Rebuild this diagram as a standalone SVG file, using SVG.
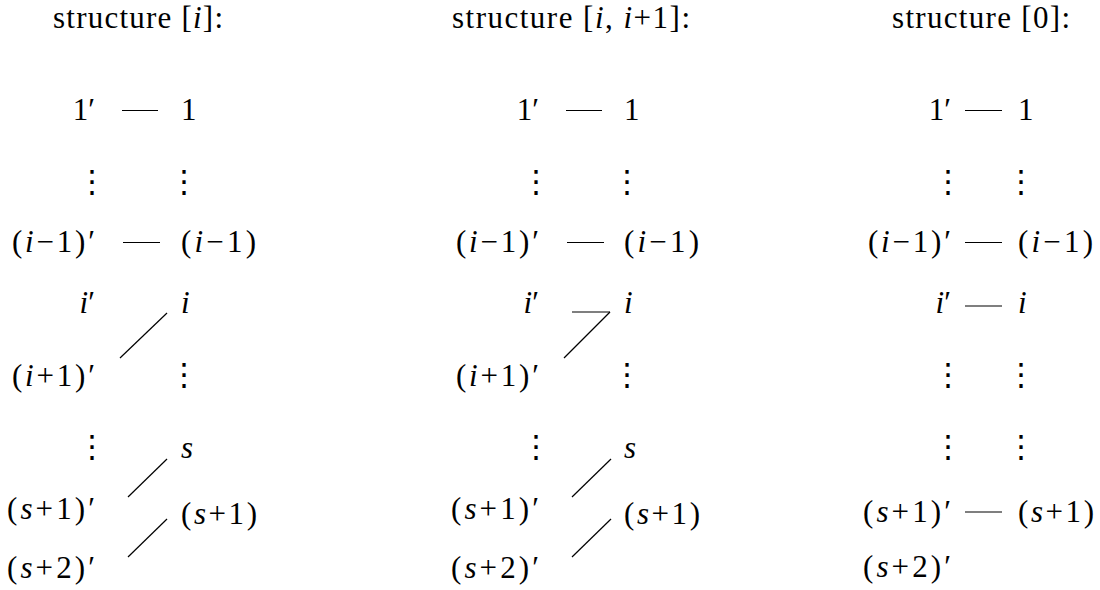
<svg xmlns="http://www.w3.org/2000/svg" width="1100" height="590" viewBox="0 0 1100 590">
<rect width="1100" height="590" fill="#fff"/>

<g id="titles" font-family="Liberation Serif, serif" font-size="31" fill="#000">
<text id="title-1" x="53" y="28" textLength="170" lengthAdjust="spacing">structure [<tspan font-style="italic">i</tspan>]:</text>
<text id="title-2" x="452" y="28" textLength="238" lengthAdjust="spacing">structure [<tspan font-style="italic">i</tspan>, <tspan font-style="italic">i</tspan>+1]:</text>
<text id="title-3" x="892" y="28" textLength="178" lengthAdjust="spacing">structure [0]:</text>
</g>

<!-- Panel 1 -->
<g id="p1" font-family="Liberation Serif, serif" font-size="31" fill="#000">
<g id="p1-L1"><text text-anchor="end" x="95" y="120">1′</text></g>
<g id="p1-Ld1"><text text-anchor="middle" x="92" y="192" font-family="DejaVu Sans, sans-serif">⋮</text></g>
<g id="p1-Lim1"><text text-anchor="end" x="95" y="252" textLength="83" lengthAdjust="spacing">(<tspan font-style="italic">i</tspan>−1)′</text></g>
<g id="p1-Li"><text text-anchor="end" x="95" y="313"><tspan font-style="italic">i</tspan>′</text></g>
<g id="p1-Lip1"><text text-anchor="end" x="95" y="386" textLength="83" lengthAdjust="spacing">(<tspan font-style="italic">i</tspan>+1)′</text></g>
<g id="p1-Ld2"><text text-anchor="middle" x="92" y="457" font-family="DejaVu Sans, sans-serif">⋮</text></g>
<g id="p1-Lsp1"><text text-anchor="end" x="95" y="519" textLength="88" lengthAdjust="spacing">(<tspan font-style="italic">s</tspan>+1)′</text></g>
<g id="p1-Lsp2"><text text-anchor="end" x="95" y="578" textLength="88" lengthAdjust="spacing">(<tspan font-style="italic">s</tspan>+2)′</text></g>
<g id="p1-R1"><text x="181" y="120">1</text></g>
<g id="p1-Rd1"><text text-anchor="middle" x="184" y="192" font-family="DejaVu Sans, sans-serif">⋮</text></g>
<g id="p1-Rim1"><text x="181" y="252" textLength="75" lengthAdjust="spacing">(<tspan font-style="italic">i</tspan>−1)</text></g>
<g id="p1-Ri"><text x="181" y="313" font-style="italic">i</text></g>
<g id="p1-Rd2"><text text-anchor="middle" x="184" y="385" font-family="DejaVu Sans, sans-serif">⋮</text></g>
<g id="p1-Rs"><text x="181" y="458" font-style="italic">s</text></g>
<g id="p1-Rsp1"><text x="181" y="524" textLength="76" lengthAdjust="spacing">(<tspan font-style="italic">s</tspan>+1)</text></g>
</g>

<!-- Panel 2 -->
<g id="p2" font-family="Liberation Serif, serif" font-size="31" fill="#000">
<g id="p2-L1"><text text-anchor="end" x="539" y="120">1′</text></g>
<g id="p2-Ld1"><text text-anchor="middle" x="536" y="192" font-family="DejaVu Sans, sans-serif">⋮</text></g>
<g id="p2-Lim1"><text text-anchor="end" x="539" y="252" textLength="83" lengthAdjust="spacing">(<tspan font-style="italic">i</tspan>−1)′</text></g>
<g id="p2-Li"><text text-anchor="end" x="539" y="313"><tspan font-style="italic">i</tspan>′</text></g>
<g id="p2-Lip1"><text text-anchor="end" x="539" y="386" textLength="83" lengthAdjust="spacing">(<tspan font-style="italic">i</tspan>+1)′</text></g>
<g id="p2-Ld2"><text text-anchor="middle" x="536" y="457" font-family="DejaVu Sans, sans-serif">⋮</text></g>
<g id="p2-Lsp1"><text text-anchor="end" x="539" y="519" textLength="88" lengthAdjust="spacing">(<tspan font-style="italic">s</tspan>+1)′</text></g>
<g id="p2-Lsp2"><text text-anchor="end" x="539" y="578" textLength="88" lengthAdjust="spacing">(<tspan font-style="italic">s</tspan>+2)′</text></g>
<g id="p2-R1"><text x="624" y="120">1</text></g>
<g id="p2-Rd1"><text text-anchor="middle" x="627" y="192" font-family="DejaVu Sans, sans-serif">⋮</text></g>
<g id="p2-Rim1"><text x="624" y="252" textLength="75" lengthAdjust="spacing">(<tspan font-style="italic">i</tspan>−1)</text></g>
<g id="p2-Ri"><text x="624" y="313" font-style="italic">i</text></g>
<g id="p2-Rd2"><text text-anchor="middle" x="627" y="385" font-family="DejaVu Sans, sans-serif">⋮</text></g>
<g id="p2-Rs"><text x="624" y="458" font-style="italic">s</text></g>
<g id="p2-Rsp1"><text x="624" y="524" textLength="76" lengthAdjust="spacing">(<tspan font-style="italic">s</tspan>+1)</text></g>
</g>

<!-- Panel 3 -->
<g id="p3" font-family="Liberation Serif, serif" font-size="31" fill="#000">
<g id="p3-L1"><text text-anchor="end" x="951" y="120">1′</text></g>
<g id="p3-Ld1"><text text-anchor="middle" x="948" y="192" font-family="DejaVu Sans, sans-serif">⋮</text></g>
<g id="p3-Lim1"><text text-anchor="end" x="951" y="252" textLength="83" lengthAdjust="spacing">(<tspan font-style="italic">i</tspan>−1)′</text></g>
<g id="p3-Li"><text text-anchor="end" x="951" y="313"><tspan font-style="italic">i</tspan>′</text></g>
<g id="p3-Ld2"><text text-anchor="middle" x="948" y="385" font-family="DejaVu Sans, sans-serif">⋮</text></g>
<g id="p3-Ld3"><text text-anchor="middle" x="948" y="457" font-family="DejaVu Sans, sans-serif">⋮</text></g>
<g id="p3-Lsp1"><text text-anchor="end" x="951" y="522" textLength="88" lengthAdjust="spacing">(<tspan font-style="italic">s</tspan>+1)′</text></g>
<g id="p3-Lsp2"><text text-anchor="end" x="951" y="577" textLength="88" lengthAdjust="spacing">(<tspan font-style="italic">s</tspan>+2)′</text></g>
<g id="p3-R1"><text x="1018" y="120">1</text></g>
<g id="p3-Rd1"><text text-anchor="middle" x="1021" y="192" font-family="DejaVu Sans, sans-serif">⋮</text></g>
<g id="p3-Rim1"><text x="1018" y="252" textLength="75" lengthAdjust="spacing">(<tspan font-style="italic">i</tspan>−1)</text></g>
<g id="p3-Ri"><text x="1018" y="313" font-style="italic">i</text></g>
<g id="p3-Rd2"><text text-anchor="middle" x="1021" y="385" font-family="DejaVu Sans, sans-serif">⋮</text></g>
<g id="p3-Rd3"><text text-anchor="middle" x="1021" y="457" font-family="DejaVu Sans, sans-serif">⋮</text></g>
<g id="p3-Rsp1"><text x="1018" y="522" textLength="76" lengthAdjust="spacing">(<tspan font-style="italic">s</tspan>+1)</text></g>
</g>

<g id="connectors" stroke="#000" stroke-width="1.2" fill="none">
<line x1="122" y1="110.5" x2="158" y2="110.5"/>
<line x1="123" y1="242.5" x2="160" y2="242.5"/>
<line x1="167" y1="313" x2="120" y2="358"/>
<line x1="167" y1="459" x2="128" y2="497"/>
<line x1="167" y1="519" x2="128" y2="557"/>

<line x1="566" y1="110.5" x2="602" y2="110.5"/>
<line x1="567" y1="242.5" x2="604" y2="242.5"/>
<line x1="572" y1="312" x2="610" y2="312"/>
<line x1="610" y1="312" x2="564" y2="358"/>
<line x1="611" y1="459" x2="572" y2="497"/>
<line x1="611" y1="519" x2="572" y2="557"/>

<line x1="965" y1="110.5" x2="1002" y2="110.5"/>
<line x1="965" y1="242.5" x2="1002" y2="242.5"/>
<line x1="965" y1="306" x2="1002" y2="306"/>
<line x1="965" y1="512" x2="1002" y2="512"/>
</g>
</svg>
